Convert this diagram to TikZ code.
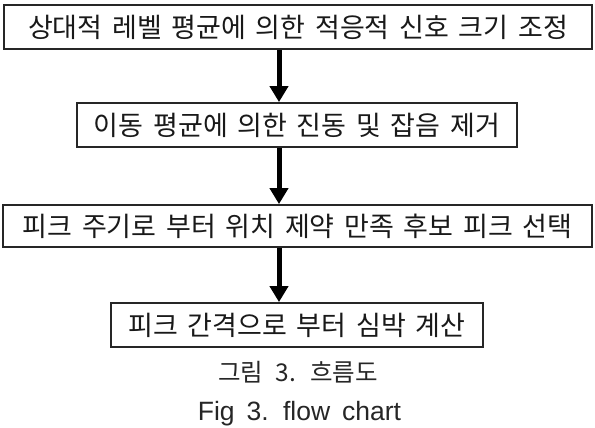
\documentclass[tikz,border=0pt]{standalone}
\usepackage{fontspec}
\newfontfamily\kr{Noto Sans CJK KR}
\newfontfamily\lat{Liberation Sans}
\newcommand\boxfont{\kr\fontsize{27}{31}\selectfont}
\newcommand\capfont{\kr\fontsize{24.5}{28}\selectfont}
\newcommand\figfont{\lat\fontsize{26.5}{30}\selectfont}
\newcommand\wsp[1]{\spaceskip=#1em\relax}
\usetikzlibrary{arrows.meta}
\begin{document}
\begin{tikzpicture}[x=1pt,y=-1pt,
  stepbox/.style={draw=black!85, line width=1.8pt, rectangle, inner sep=0pt,
    minimum height=44pt, text=black!90, font=\boxfont},
  flowarrow/.style={line width=5pt, -{Triangle[length=16pt,width=18pt]}},
  captext/.style={inner sep=0pt, text=black!85, anchor=base}]
\useasboundingbox[fill=white] (0,0) rectangle (595,428);
\node[stepbox, minimum width=588pt] (b1) at (298,27) {\wsp{0.36}상대적 레벨 평균에 의한 적응적 신호 크기 조정};
\node[stepbox, minimum width=440pt] (b2) at (297,125) {\wsp{0.36}이동 평균에 의한 진동 및 잡음 제거};
\node[stepbox, minimum width=589pt, minimum height=42pt] (b3) at (297.5,226) {\wsp{0.36}피크 주기로 부터 위치 제약 만족 후보 피크 선택};
\node[stepbox, minimum width=372pt] (b4) at (297,325) {\wsp{0.36}피크 간격으로 부터 심박 계산};
\coordinate (ax) at (279,0);
\draw[flowarrow] (b1.south -| ax) -- (b2.north -| ax);
\draw[flowarrow] (b2.south -| ax) -- (b3.north -| ax);
\draw[flowarrow] (b3.south -| ax) -- (b4.north -| ax);
\node[captext, font=\capfont] (c1) at (298,381) {\wsp{0.5}그림 3. 흐름도};
\node[captext, font=\figfont] (c2) at (299.5,420) {\wsp{0.45}Fig 3. flow chart};
\end{tikzpicture}
\end{document}
